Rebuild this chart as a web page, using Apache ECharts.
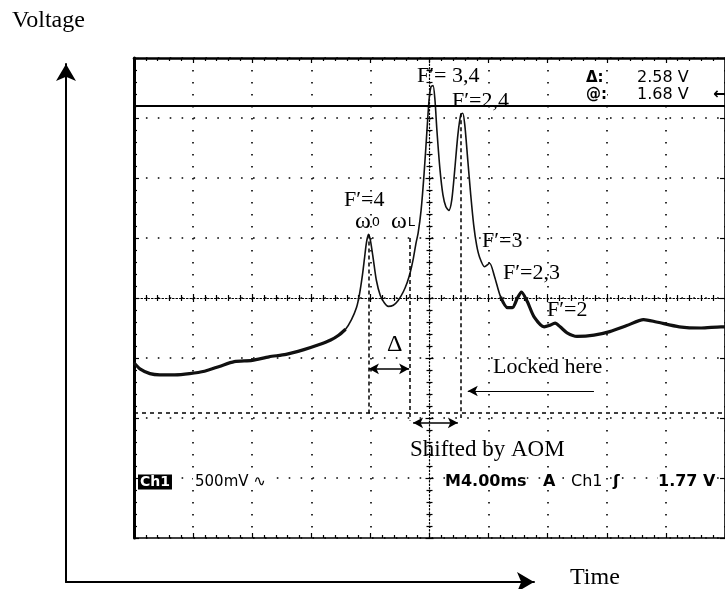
<!DOCTYPE html>
<html><head><meta charset="utf-8">
<script src="https://cdn.jsdelivr.net/npm/echarts/dist/echarts.min.js"></script>
<style>html,body{margin:0;padding:0;background:#fff}#c{width:725px;height:589px}</style>
</head><body><div id="c"></div>
<script>
// ---- data (time in ms, voltage in V relative to screen centre) ----
const timeMs = [0, 0.40, 1.08, 1.75, 2.76, 3.76, 4.77, 5.78, 6.79, 8.00, 9.14, 10.29, 11.50, 12.50, 13.31, 13.85, 14.32, 14.72, 15.06, 15.26,
  15.46, 15.60, 15.73, 15.87, 16.00, 16.20, 16.40, 16.67, 16.94, 17.21, 17.55, 17.88, 18.22, 18.49, 18.69, 18.89, 19.09, 19.23, 19.43, 19.63,
  19.83, 19.97, 20.10, 20.24, 20.37, 20.50, 20.71, 20.91, 21.11, 21.31, 21.51, 21.71, 21.92, 22.12, 22.25, 22.39, 22.59, 22.79, 22.99, 23.19,
  23.39, 23.73, 24.07, 24.40, 24.81, 25.28, 25.61, 25.95, 26.22, 26.62, 27.09, 27.76, 28.10, 28.50, 28.84, 29.31, 29.98, 31.13, 32.20, 33.35,
  34.49, 35.36, 36.91, 38.39, 39.73, 40.00];
const volts = [-0.54, -0.59, -0.63, -0.64, -0.64, -0.63, -0.61, -0.57, -0.53, -0.52, -0.49, -0.47, -0.43, -0.39, -0.35, -0.31, -0.26, -0.18, -0.08, 0.03,
  0.19, 0.33, 0.46, 0.53, 0.48, 0.32, 0.15, 0.02, -0.04, -0.07, -0.06, -0.02, 0.05, 0.13, 0.21, 0.32, 0.46, 0.54, 0.73, 1.03,
  1.40, 1.65, 1.76, 1.77, 1.65, 1.40, 1.07, 0.86, 0.76, 0.73, 0.82, 1.07, 1.36, 1.53, 1.54, 1.44, 1.15, 0.86, 0.61, 0.44,
  0.34, 0.26, 0.29, 0.18, 0.01, -0.08, -0.08, 0.00, 0.05, -0.03, -0.16, -0.24, -0.23, -0.21, -0.24, -0.29, -0.32, -0.31, -0.28, -0.23,
  -0.18, -0.20, -0.24, -0.25, -0.24, -0.24];

// screen scale: 10 time divisions of 4 ms, 8 voltage divisions of 0.5 V
const tMin = 0, tMax = 40, tStep = 4;
const vMin = -2, vMax = 2, vStep = 0.5;

// cursors and annotation positions (data units)
const cursorTopV = 1.60;
const cursorBottomV = -0.96;
const omega0T = 15.87, omega0TopV = 0.53;
const omegaLT = 18.69, omegaLTopV = 0.50, omegaLBottomV = -1.02;
const peak24T = 22.12, peak24TopV = 1.54, peak24BottomV = -1.00;
const deltaArrow = {from: 15.90, to: 18.62, v: -0.59};
const shiftArrow = {from: 18.89, to: 21.92, v: -1.04};
const lockArrow = {from: 31.13, to: 22.59, v: -0.775};

// on-screen readouts
const deltaReading = '2.58 V';
const atReading = '1.68 V';
const chScale = '500mV';
const timeBase = 'M4.00ms';
const trigLevel = '1.77 V';

const serif = '"Liberation Serif", "Times New Roman", serif';
const sans = '"DejaVu Sans", sans-serif';

const traceData = timeMs.map((t, i) => [t, volts[i]]);
const thickData = timeMs.map((t, i) => (t < 14.6 || t > 24.6) ? [t, volts[i]] : [t, null]);

const rect = {left: 134, top: 58, width: 594, height: 480};
const K = '#000';
const dotX = [1.6, 10.3];
const dotY = [1.6, 10.4];

function valueAxis(extra) {
  return Object.assign({
    type: 'value', axisLabel: {show: false}, splitLine: {show: false},
    axisTick: {show: false}, minorTick: {show: false}, axisLine: {show: false}
  }, extra);
}
const tickStyle = {color: K, width: 1.2};

const xAxes = [
  valueAxis({gridIndex: 0, min: tMin, max: tMax, interval: tStep, position: 'bottom',
    axisLine: {show: true, onZero: false, lineStyle: {color: K, width: 1.6}},
    axisTick: {show: true, inside: true, length: 5, lineStyle: tickStyle},
    minorTick: {show: true, splitNumber: 5, length: 3, lineStyle: tickStyle},
    splitLine: {show: true, lineStyle: {color: K, width: 1.6, type: dotY}}}),
  valueAxis({gridIndex: 0, min: tMin, max: tMax, interval: tStep, position: 'top',
    axisLine: {show: true, onZero: false, lineStyle: {color: K, width: 2.6}},
    axisTick: {show: true, inside: true, length: 5, lineStyle: tickStyle},
    minorTick: {show: true, splitNumber: 5, length: 3, lineStyle: tickStyle}}),
  valueAxis({gridIndex: 1, min: tMin, max: tMax, interval: tStep, position: 'bottom',
    axisLine: {show: true, onZero: true, lineStyle: {color: K, width: 1.2, type: [1.5, 2]}},
    axisTick: {show: true, inside: true, length: 4, lineStyle: tickStyle},
    minorTick: {show: true, splitNumber: 5, length: 3, lineStyle: tickStyle}}),
  valueAxis({gridIndex: 2, min: tMin, max: tMax, interval: tStep, position: 'top',
    axisLine: {show: false, onZero: true},
    axisTick: {show: true, inside: true, length: 4, lineStyle: tickStyle},
    minorTick: {show: true, splitNumber: 5, length: 3, lineStyle: tickStyle}}),
  valueAxis({gridIndex: 3, min: -20, max: 20, show: false}),
  valueAxis({gridIndex: 4, min: -20, max: 20, show: false}),
  valueAxis({gridIndex: 5, min: 0, max: 1, position: 'bottom',
    axisLine: {show: true, onZero: false, symbol: ['none', 'arrow'], symbolSize: [15, 17], lineStyle: {color: K, width: 2}}})
];
const yAxes = [
  valueAxis({gridIndex: 0, min: vMin, max: vMax, interval: vStep, position: 'left',
    axisLine: {show: true, onZero: false, lineStyle: {color: K, width: 3}},
    axisTick: {show: true, inside: true, length: 5, lineStyle: tickStyle},
    minorTick: {show: true, splitNumber: 5, length: 3, lineStyle: tickStyle},
    splitLine: {show: true, lineStyle: {color: K, width: 1.6, type: dotX}}}),
  valueAxis({gridIndex: 0, min: vMin, max: vMax, interval: vStep, position: 'right',
    axisLine: {show: true, onZero: false, lineStyle: {color: K, width: 1.6}},
    axisTick: {show: true, inside: true, length: 5, lineStyle: tickStyle}}),
  valueAxis({gridIndex: 1, min: vMin, max: vMax, show: false}),
  valueAxis({gridIndex: 2, min: vMin, max: vMax, show: false}),
  valueAxis({gridIndex: 3, min: vMin, max: vMax, interval: vStep, position: 'left',
    axisLine: {show: true, onZero: true, lineStyle: {color: K, width: 1.2, type: [1.5, 2]}},
    axisTick: {show: true, inside: true, length: 4, lineStyle: tickStyle},
    minorTick: {show: true, splitNumber: 5, length: 3, lineStyle: tickStyle}}),
  valueAxis({gridIndex: 4, min: vMin, max: vMax, interval: vStep, position: 'right',
    axisLine: {show: false, onZero: true},
    axisTick: {show: true, inside: true, length: 4, lineStyle: tickStyle},
    minorTick: {show: true, splitNumber: 5, length: 3, lineStyle: tickStyle}}),
  valueAxis({gridIndex: 5, min: 0, max: 1, position: 'left',
    axisLine: {show: true, onZero: false, symbol: ['none', 'arrow'], symbolSize: [15, 17], lineStyle: {color: K, width: 2}}})
];

const dashV = {color: K, width: 1.5, type: [4, 3]};
const seg = (a, b, style, s0, s1) => [
  {coord: a, symbol: s0 || 'none', symbolSize: [8, 10]},
  {coord: b, symbol: s1 || 'none', symbolSize: [8, 10], lineStyle: style}
];

function T(x, y, text, size, family, extra) {
  return {type: 'text', x: x, y: y, z: 50,
    style: Object.assign({text: text, fontSize: size, fontFamily: family, fill: K, verticalAlign: 'middle', align: 'left'}, extra || {})};
}
const omegaRich = {w: {fontSize: 24, fontFamily: serif}, s: {fontSize: 13, fontFamily: sans, padding: [2, 0, 0, 1]}};

const graphics = [
  T(12, 21, 'Voltage', 24, serif),
  T(570, 578, 'Time', 24, serif),
  T(417, 76, 'F\u2032= 3,4', 22, serif),
  T(452, 101, 'F\u2032=2,4', 22, serif),
  T(344, 200, 'F\u2032=4', 22, serif),
  T(355, 222, '{w|\u03c9}{s|0}', 22, serif, {rich: omegaRich}),
  T(391, 222, '{w|\u03c9}{s|L}', 22, serif, {rich: omegaRich}),
  T(482, 241, 'F\u2032=3', 22, serif),
  T(503, 273, 'F\u2032=2,3', 22, serif),
  T(547, 310, 'F\u2032=2', 22, serif),
  T(387, 345, '\u0394', 24, serif),
  T(493, 367, 'Locked here', 22, serif),
  T(410, 450, 'Shifted by AOM', 23, serif),
  T(586, 78, '\u0394:', 15, sans, {fontWeight: 'bold', backgroundColor: '#fff'}),
  T(637, 78, deltaReading, 16, sans, {backgroundColor: '#fff'}),
  T(586, 95, '@:', 15, sans, {fontWeight: 'bold', backgroundColor: '#fff'}),
  T(637, 95, atReading, 16, sans, {backgroundColor: '#fff'}),
  T(713, 95, '\u2190', 16, sans, {fontWeight: 'bold'}),
  T(138, 482, 'Ch1', 14, sans, {fontWeight: 'bold', fill: '#fff', backgroundColor: '#000', padding: [1, 2, 0, 2]}),
  T(193, 482, chScale + ' \u223f', 15, sans, {backgroundColor: '#fff', padding: [0, 2]}),
  T(445, 482, timeBase, 16, sans, {fontWeight: 'bold', backgroundColor: '#fff'}),
  T(543, 482, 'A', 16, sans, {fontWeight: 'bold', backgroundColor: '#fff'}),
  T(571, 482, 'Ch1', 16, sans, {backgroundColor: '#fff'}),
  T(613, 482, '\u0283', 16, sans, {fontWeight: 'bold'}),
  T(658, 482, trigLevel, 16, sans, {fontWeight: 'bold', backgroundColor: '#fff'})
];

const option = {
  animation: false,
  backgroundColor: '#fff',
  grid: [
    Object.assign({}, rect), Object.assign({}, rect), Object.assign({}, rect),
    Object.assign({}, rect), Object.assign({}, rect),
    {left: 66, top: 64, width: 468, bottom: 7}
  ],
  xAxis: xAxes,
  yAxis: yAxes,
  graphic: graphics,
  series: [
    {type: 'line', name: 'trace-thick', xAxisIndex: 0, yAxisIndex: 0, data: thickData, showSymbol: false,
      smooth: 0.25, connectNulls: false, lineStyle: {color: '#111', width: 3.2}, z: 3},
    {type: 'line', name: 'trace', xAxisIndex: 0, yAxisIndex: 0, data: traceData, showSymbol: false,
      smooth: 0.25, lineStyle: {color: '#111', width: 1.6}, z: 4,
      markLine: {
        silent: true, animation: false, symbol: 'none', label: {show: false},
        lineStyle: {color: K},
        data: [
          [{coord: [tMin, cursorTopV], symbol: 'none'}, {coord: [tMax, cursorTopV], symbol: 'none', lineStyle: {color: K, width: 2, type: 'solid'}}],
          [{coord: [tMin, cursorBottomV], symbol: 'none'}, {coord: [tMax, cursorBottomV], symbol: 'none', lineStyle: {color: K, width: 1.5, type: [4, 4]}}],
          seg([omega0T, omega0TopV], [omega0T, cursorBottomV], dashV),
          seg([omegaLT, omegaLTopV], [omegaLT, omegaLBottomV], dashV),
          seg([peak24T, peak24TopV], [peak24T, peak24BottomV], dashV),
          seg([deltaArrow.from, deltaArrow.v], [deltaArrow.to, deltaArrow.v], {color: K, width: 1.6, type: 'solid'}, 'arrow', 'arrow'),
          seg([shiftArrow.from, shiftArrow.v], [shiftArrow.to, shiftArrow.v], {color: K, width: 1.6, type: 'solid'}, 'arrow', 'arrow'),
          seg([lockArrow.from, lockArrow.v], [lockArrow.to, lockArrow.v], {color: K, width: 1.2, type: 'solid'}, 'none', 'arrow')
        ]
      }}
  ]
};
const chart = echarts.init(document.getElementById('c'), null, {renderer: 'canvas'});
chart.setOption(option);
</script>
</body></html>
